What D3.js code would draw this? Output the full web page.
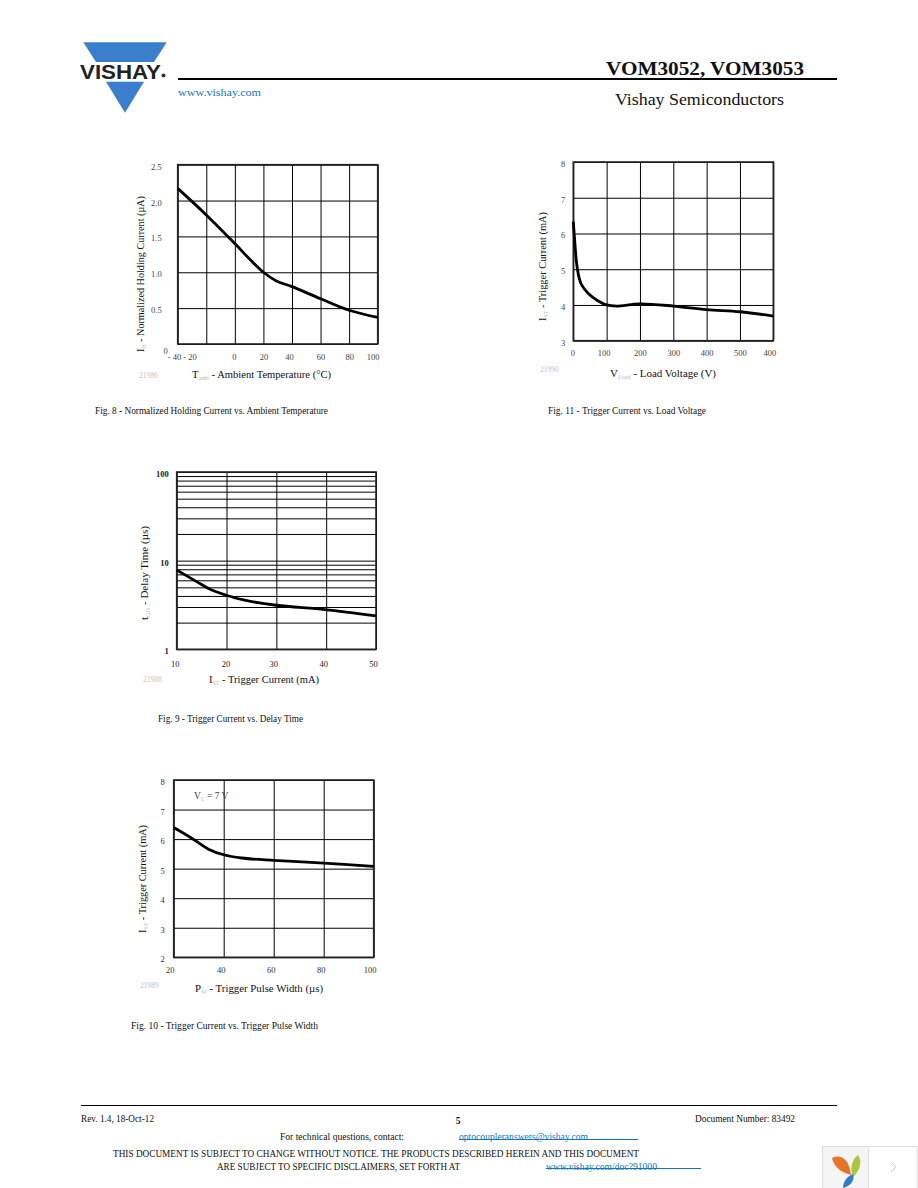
<!DOCTYPE html>
<html>
<head>
<meta charset="utf-8">
<script src="https://cdn.jsdelivr.net/npm/d3@7"></script>
<style>
html, body { margin: 0; padding: 0; background: #fff; }
svg { display: block; }
text { font-family: "Liberation Serif", serif; fill: #111; }
</style>
</head>
<body>
<div id="page"></div>
<script>
// Fig. 8
var holdingTemp = [-40, -20, 0, 11, 20, 29, 40, 60, 80, 100];
var holdingCurrent = [2.17, 1.80, 1.40, 1.17, 1.00, 0.88, 0.80, 0.63, 0.47, 0.37];
var holdingXTicks = [-40, -20, 0, 20, 40, 60, 80, 100];
var holdingXLabels = ["- 40 - 20", "", "0", "20", "40", "60", "80", "100"];
var holdingYTicks = [0, 0.5, 1, 1.5, 2, 2.5];
var holdingYLabels = ["0", "0.5", "1.0", "1.5", "2.0", "2.5"];

// Fig. 11
var loadVoltage = [0, 4, 10, 18, 25, 45, 70, 100, 130, 200, 300, 400, 500, 600];
var loadTrigger = [6.33, 5.82, 5.16, 4.74, 4.56, 4.32, 4.14, 4.00, 3.97, 4.03, 3.97, 3.87, 3.81, 3.69];
var loadXTicks = [0, 100, 200, 300, 400, 500, 600];
var loadXLabels = ["0", "100", "200", "300", "400", "500", "400"];
var loadYTicks = [3, 4, 5, 6, 7, 8];

// Fig. 9
var delayTrigger = [10, 14, 16.7, 19.8, 23.4, 30, 39.8, 50];
var delayTime = [7.85, 5.8, 4.75, 4.1, 3.6, 3.14, 2.8, 2.38];
var delayXTicks = [10, 20, 30, 40, 50];
var delayYGrid = [1, 2, 3, 4, 5, 6, 7, 8, 9, 10, 20, 30, 40, 50, 60, 70, 80, 90, 100];
var delayYLabels = [1, 10, 100];

// Fig. 10
var pulseWidth = [20, 27.2, 33.9, 40, 47.2, 60, 80, 100];
var pulseTrigger = [6.39, 6.03, 5.66, 5.47, 5.36, 5.28, 5.19, 5.08];
var pulseXTicks = [20, 40, 60, 80, 100];
var pulseYTicks = [2, 3, 4, 5, 6, 7, 8];

var svg = d3.select("#page").append("svg")
    .attr("width", 918)
    .attr("height", 1188);

svg.append("rect").attr("width", 918).attr("height", 1188).attr("fill", "#fff");

function addText(x, y, str, size, opts) {
    opts = opts || {};
    var t = svg.append("text")
        .attr("x", x)
        .attr("y", y)
        .style("font-size", size + "px")
        .text(str);
    if (opts.anchor) t.attr("text-anchor", opts.anchor);
    if (opts.fill) t.style("fill", opts.fill);
    if (opts.weight) t.style("font-weight", opts.weight);
    if (opts.family) t.style("font-family", opts.family);
    if (opts.width) t.attr("textLength", opts.width).attr("lengthAdjust", "spacingAndGlyphs");
    return t;
}

// axis title: symbol, faint subscript, rest of the label
function axisTitle(g, symbol, sub, rest) {
    g.append("tspan").text(symbol);
    g.append("tspan").text(sub).style("font-size", "6px").style("fill", "#bbb").attr("dy", 2);
    g.append("tspan").text(rest).attr("dy", -2);
}

function drawChart(c) {
    var x = d3.scaleLinear().domain(c.xDomain).range([c.left, c.right]);
    var y = (c.log ? d3.scaleLog() : d3.scaleLinear()).domain(c.yDomain).range([c.bottom, c.top]);

    var g = svg.append("g");

    // vertical grid plus x labels
    var xAxis = d3.axisBottom(x)
        .tickValues(c.xTicks)
        .tickSize(-(c.bottom - c.top))
        .tickPadding(6)
        .tickFormat(function(d, i) { return c.xLabels ? c.xLabels[i] : d; });
    var gx = g.append("g")
        .attr("transform", "translate(0," + c.bottom + ")")
        .call(xAxis);
    gx.select(".domain").remove();
    gx.selectAll("line").attr("stroke", "#000").attr("stroke-width", 1);
    gx.selectAll("text")
        .style("font-family", '"Liberation Serif", serif')
        .style("font-size", "8.5px")
        .style("font-weight", c.xWeight)
        .style("fill", c.tickFill)
        .attr("dx", function(d, i) { return c.xDx ? c.xDx[i] : 0; })
        .attr("y", c.xLabelGap);

    // horizontal grid
    var yAxis = d3.axisLeft(y)
        .tickValues(c.yGrid)
        .tickSize(-(c.right - c.left))
        .tickFormat("");
    var gy = g.append("g")
        .attr("transform", "translate(" + c.left + ",0)")
        .call(yAxis);
    gy.select(".domain").remove();
    gy.selectAll("line").attr("stroke", "#000").attr("stroke-width", 1);

    // y labels sit a bit lower than their grid lines
    c.yTicks.forEach(function(v, i) {
        addText(c.left + c.yLabelX, y(v) + 5, c.yLabels ? c.yLabels[i] : v, 8.5, {
            anchor: "end", fill: c.tickFill, weight: c.yWeight
        }).attr("dx", c.yDx ? c.yDx[i] : 0).attr("dy", c.yDy ? c.yDy[i] : 0);
    });

    // frame
    g.append("rect")
        .attr("x", c.left)
        .attr("y", c.top)
        .attr("width", c.right - c.left)
        .attr("height", c.bottom - c.top)
        .attr("fill", "none")
        .attr("stroke", "#222")
        .attr("stroke-width", 1.6);

    var line = d3.line()
        .x(function(d) { return x(d[0]); })
        .y(function(d) { return y(d[1]); })
        .curve(d3.curveCatmullRom.alpha(0.5));
    g.append("path")
        .datum(d3.zip(c.xs, c.ys))
        .attr("d", line)
        .attr("fill", "none")
        .attr("stroke", "#000")
        .attr("stroke-width", 2.8);

    // titles
    var tx = addText(c.xTitle[0], c.xTitle[1], "", 10.5);
    axisTitle(tx, c.xTitle[2], c.xTitle[3], c.xTitle[4]);
    tx.attr("textLength", c.xTitle[5]).attr("lengthAdjust", "spacingAndGlyphs");

    var ty = addText(0, 0, "", 10.5)
        .attr("transform", "translate(" + c.yTitle[0] + "," + c.yTitle[1] + ") rotate(-90)");
    axisTitle(ty, c.yTitle[2], c.yTitle[3], c.yTitle[4]);
    ty.attr("textLength", c.yTitle[5]).attr("lengthAdjust", "spacingAndGlyphs");

    addText(c.idLabel[0], c.idLabel[1], c.idLabel[2], 7.5, { fill: "#c4c4c4" });
    addText(c.caption[0], c.caption[1], c.caption[2], 9.5, { width: c.caption[3], weight: "normal" });
}

drawChart({
    left: 177.7, right: 377.7, top: 164.7, bottom: 344,
    xDomain: [-40, 100], yDomain: [0, 2.5],
    xs: holdingTemp, ys: holdingCurrent,
    xTicks: holdingXTicks, xLabels: holdingXLabels, xLabelGap: 10,
    xDx: [4, 0, -1, 0, -3, 0, 0, -5],
    xWeight: "normal", yWeight: "normal", tickFill: "#444",
    yGrid: holdingYTicks, yTicks: holdingYTicks, yLabels: holdingYLabels,
    yLabelX: -16, yDx: [6, 0, 0, 0, 0, 0], yDy: [5, 0, 0, 0, 0, 0],
    xTitle: [192, 378, "T", "amb", "  - Ambient Temperature (°C)", 139],
    yTitle: [143.5, 352, "I", "H", "  - Normalized Holding Current (µA)", 156],
    idLabel: [139, 378, "21986"],
    caption: [95, 413.5, "Fig. 8 - Normalized Holding Current vs. Ambient Temperature", 233]
});

drawChart({
    left: 573.3, right: 773.3, top: 162, bottom: 340.7,
    xDomain: [0, 600], yDomain: [3, 8],
    xs: loadVoltage, ys: loadTrigger,
    xTicks: loadXTicks, xLabels: loadXLabels, xLabelGap: 9.5,
    xDx: [-1, -3, 0, 0, 0, 0, -4],
    xWeight: "normal", yWeight: "normal", tickFill: "#444",
    yGrid: loadYTicks, yTicks: loadYTicks,
    yLabelX: -8,
    xTitle: [610, 377, "V", "Load", "  - Load Voltage (V)", 106],
    yTitle: [546, 321, "I", "ST", "  - Trigger Current (mA)", 109],
    idLabel: [540, 372, "21990"],
    caption: [548, 413.5, "Fig. 11 - Trigger Current vs. Load Voltage", 158]
});

drawChart({
    left: 176.7, right: 376, top: 472, bottom: 649.3, log: true,
    xDomain: [10, 50], yDomain: [1, 100],
    xs: delayTrigger, ys: delayTime,
    xTicks: delayXTicks, xLabelGap: 12,
    xDx: [-2, -1, -3, -3, -3],
    xWeight: "normal", yWeight: "bold", tickFill: "#222",
    yGrid: delayYGrid, yTicks: delayYLabels,
    yLabelX: -8,
    xTitle: [209, 683, "I", "ST", "  - Trigger Current (mA)", 110],
    yTitle: [148, 620, "t", "GD", "  - Delay Time (µs)", 94],
    idLabel: [143, 682, "21988"],
    caption: [158, 721.5, "Fig. 9 - Trigger Current vs. Delay Time", 145]
});

drawChart({
    left: 173.7, right: 373.7, top: 780, bottom: 957.3,
    xDomain: [20, 100], yDomain: [2, 8],
    xs: pulseWidth, ys: pulseTrigger,
    xTicks: pulseXTicks, xLabelGap: 10,
    xDx: [-4, -3, -3, -3, -4],
    xWeight: "normal", yWeight: "normal", tickFill: "#333",
    yGrid: pulseYTicks, yTicks: pulseYTicks,
    yLabelX: -9,
    xTitle: [195, 992, "P", "W", "  - Trigger Pulse Width (µs)", 128],
    yTitle: [146, 933, "I", "ST", "  - Trigger Current (mA)", 108],
    idLabel: [140, 988, "21989"],
    caption: [131, 1028.5, "Fig. 10 - Trigger Current vs. Trigger Pulse Width", 187]
});

// condition note inside fig. 10
var note = addText(194, 799, "", 9.5).style("fill", "#444");
axisTitle(note, "V", "L", " = 7 V");

// header
var logoBlue = "#3b7fcc";
svg.append("polygon").attr("points", "83.3,42.3 166.7,42.3 154,62 96,62").attr("fill", logoBlue);
svg.append("polygon").attr("points", "106,81.7 144,81.7 125,112.7").attr("fill", logoBlue);
addText(80, 78.5, "VISHAY", 21, { weight: "bold", family: '"Liberation Sans", sans-serif', width: 81, fill: "#222" });
svg.append("circle").attr("cx", 163.5).attr("cy", 75.5).attr("r", 2).attr("fill", "#333");

svg.append("line").attr("x1", 178).attr("x2", 837).attr("y1", 79).attr("y2", 79)
    .attr("stroke", "#000").attr("stroke-width", 2);
addText(178, 96, "www.vishay.com", 11, { fill: "#0f76bd", width: 83 });
addText(606, 75, "VOM3052, VOM3053", 18, { weight: "bold", width: 198 });
addText(615, 105, "Vishay Semiconductors", 16, { width: 169 });

// footer
svg.append("line").attr("x1", 81).attr("x2", 837).attr("y1", 1105.5).attr("y2", 1105.5)
    .attr("stroke", "#000").attr("stroke-width", 1);
addText(81, 1122, "Rev. 1.4, 18-Oct-12", 9.5, { width: 73 });
addText(458, 1124, "5", 9.5, { weight: "bold", anchor: "middle" });
addText(695, 1122, "Document Number: 83492", 9.5, { width: 100 });
addText(280, 1140, "For technical questions, contact:", 9.5, { width: 124 });
addText(459, 1140, "optocoupleranswers@vishay.com", 9.5, { fill: "#0f76bd", width: 129 });
svg.append("line").attr("x1", 459).attr("x2", 638).attr("y1", 1139.5).attr("y2", 1139.5)
    .attr("stroke", "#0f76bd").attr("stroke-width", 1);
addText(113, 1157, "THIS DOCUMENT IS SUBJECT TO CHANGE WITHOUT NOTICE. THE PRODUCTS DESCRIBED HEREIN AND THIS DOCUMENT", 9.5, { width: 526 });
addText(217, 1170, "ARE SUBJECT TO SPECIFIC DISCLAIMERS, SET FORTH AT", 9.5, { width: 243 });
addText(546, 1170, "www.vishay.com/doc?91000", 9.5, { fill: "#0f76bd", width: 111 });
svg.append("line").attr("x1", 546).attr("x2", 701).attr("y1", 1168.5).attr("y2", 1168.5)
    .attr("stroke", "#0f76bd").attr("stroke-width", 1);

// viewer widget, bottom right
svg.append("rect").attr("x", 822.5).attr("y", 1146.5).attr("width", 46).attr("height", 42)
    .attr("fill", "#f5f5f5").attr("stroke", "#ddd");
svg.append("rect").attr("x", 868.5).attr("y", 1146.5).attr("width", 48.5).attr("height", 42)
    .attr("fill", "#fff").attr("stroke", "#ddd");
svg.append("path").attr("d", "M832,1158 C840,1154 849,1158 851,1175 C843,1173 834,1168 832,1158Z").attr("fill", "#e8742a");
svg.append("path").attr("d", "M858,1155 C862,1160 861,1170 853,1177 C850,1170 851,1160 858,1155Z").attr("fill", "#a9c63f");
svg.append("path").attr("d", "M853,1174 C855,1180 851,1186 843,1188 C843,1182 847,1176 853,1174Z").attr("fill", "#2f7fc6");
svg.append("path").attr("d", "M891,1162 L896,1167 L891,1172").attr("fill", "none").attr("stroke", "#ccc").attr("stroke-width", 1);
</script>
</body>
</html>
